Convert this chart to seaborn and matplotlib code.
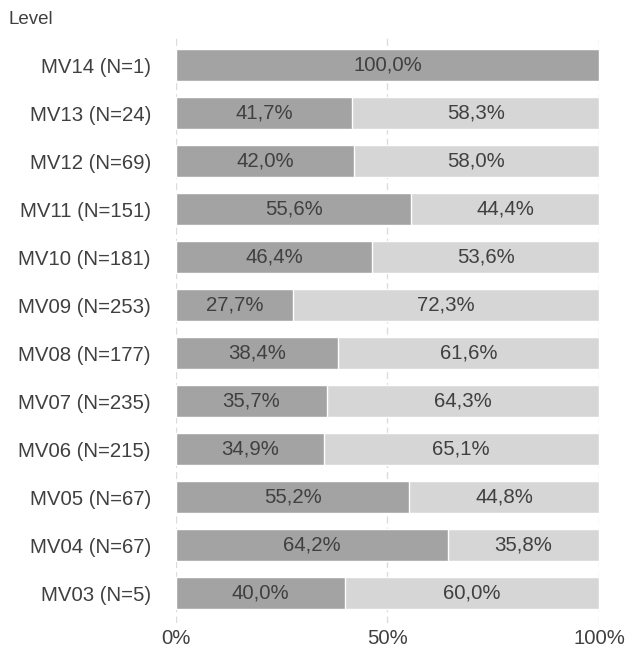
import pandas as pd
import matplotlib.pyplot as plt
import seaborn as sns

# Data (top to bottom)
levels = ["MV14 (N=1)", "MV13 (N=24)", "MV12 (N=69)", "MV11 (N=151)", "MV10 (N=181)",
          "MV09 (N=253)", "MV08 (N=177)", "MV07 (N=235)", "MV06 (N=215)",
          "MV05 (N=67)", "MV04 (N=67)", "MV03 (N=5)"]
share_a = [100.0, 41.7, 42.0, 55.6, 46.4, 27.7, 38.4, 35.7, 34.9, 55.2, 64.2, 40.0]
share_b = [0.0, 58.3, 58.0, 44.4, 53.6, 72.3, 61.6, 64.3, 65.1, 44.8, 35.8, 60.0]

df = pd.DataFrame({"Level": levels, "A": share_a, "B": share_b})
df["Total"] = df["A"] + df["B"]

sns.set_style("white")
plt.rcParams["font.family"] = ["Liberation Sans", "DejaVu Sans"]

dark = "#a3a3a3"
light = "#d6d6d6"
txt = "#404040"

fig = plt.figure(figsize=(6.27, 6.53), dpi=100)
ax = fig.add_axes([0.2807, 0.0459, 0.6746, 0.9005])

sns.barplot(data=df, y="Level", x="Total", color=light, width=0.667,
            saturation=1, ax=ax, zorder=2)
sns.barplot(data=df, y="Level", x="A", color=dark, width=0.667,
            saturation=1, ax=ax, zorder=3)

# segment labels
for i, (a, b) in enumerate(zip(share_a, share_b)):
    if a > 0:
        ax.text(a / 2, i, f"{a:.1f}%".replace(".", ","), ha="center", va="center",
                fontsize=14.7, color=txt, zorder=4)
    if b > 0:
        ax.text(a + b / 2, i, f"{b:.1f}%".replace(".", ","), ha="center", va="center",
                fontsize=14.7, color=txt, zorder=4)

ax.set_xlim(0, 100)
ax.set_ylim(11.625, -0.625)
ax.set_xticks([0, 50, 100])
ax.set_xticklabels(["0%", "50%", "100%"])
ax.tick_params(axis="both", length=0, labelsize=14.7, labelcolor=txt)
ax.tick_params(axis="y", pad=18)
ax.tick_params(axis="x", pad=4)
ax.set_xlabel("")
ax.set_ylabel("")
for s in ax.spines.values():
    s.set_visible(False)
ax.xaxis.grid(True, linestyle=(0, (5, 3)), color="#dcdcdc", linewidth=1, zorder=0)
ax.set_axisbelow(True)

fig.text(8 / 627, 1 - 20 / 653, "Level", fontsize=13.5, color=txt, ha="left", va="center")

plt.savefig("out.png", dpi=100)
plt.close()
